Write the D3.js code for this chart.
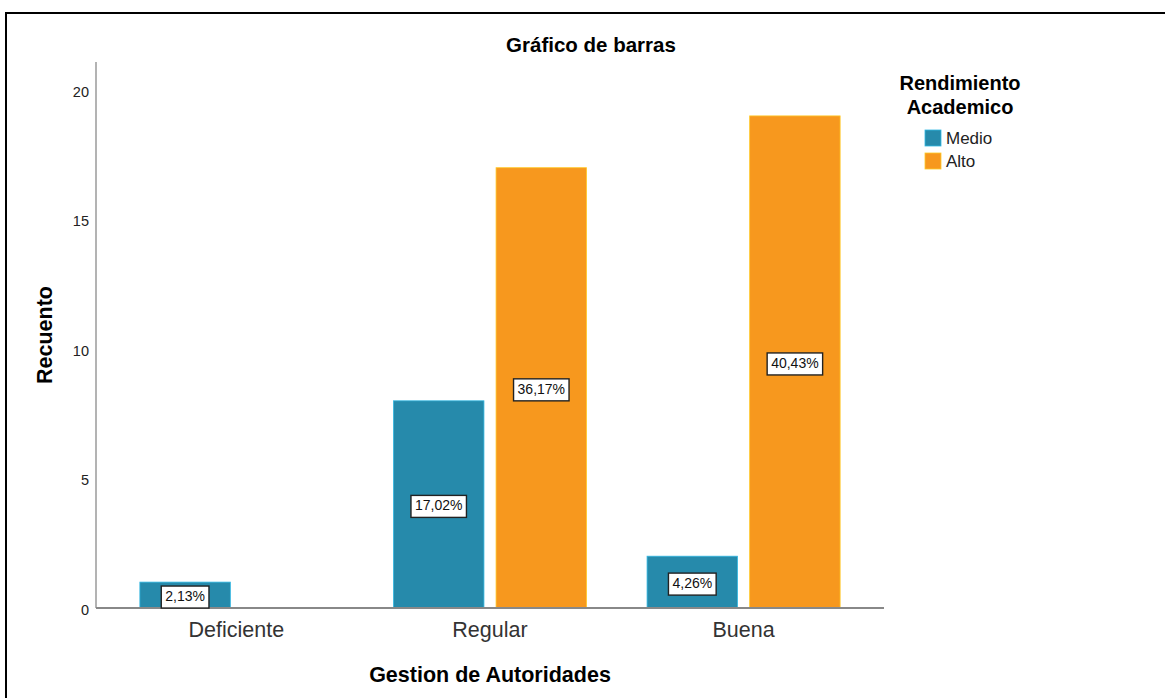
<!DOCTYPE html>
<html>
<head>
<meta charset="utf-8">
<script src="https://cdn.jsdelivr.net/npm/d3@7"></script>
<style>
  body { margin: 0; background: #fff; }
  svg { display: block; font-family: Arial, "Liberation Sans", sans-serif; }
</style>
</head>
<body>
<svg id="chart" width="1165" height="698"></svg>
<script>
// data
const categories = ['Deficiente', 'Regular', 'Buena'];
const series = ['Medio', 'Alto'];
const medio = [1, 8, 2];
const alto = [0, 17, 19];
const medioPct = ['2,13%', '17,02%', '4,26%'];
const altoPct = ['', '36,17%', '40,43%'];
const yTicks = [0, 5, 10, 15, 20];
const legendTitle = ['Rendimiento', 'Academico'];
const colors = ['#268aab', '#f7981e'];

const svg = d3.select('#chart');

// frame
svg.append('rect')
  .attr('x', 6).attr('y', 13)
  .attr('width', 1200).attr('height', 720)
  .attr('fill', 'none').attr('stroke', '#000').attr('stroke-width', 2);

const plotLeft = 96, plotRight = 884, plotTop = 62, plotBase = 608;

const x = d3.scaleBand().domain(categories).range([plotLeft, plotRight])
  .paddingInner(0.2387).paddingOuter(0.173);
const xs = d3.scaleBand().domain(series).range([0, x.bandwidth()])
  .paddingInner(0.118);
const y = d3.scaleLinear().domain([0, 20]).range([plotBase, 90]);

// rows
let rows = [];
categories.forEach((c, i) => {
  rows.push({cat: c, s: 'Medio', v: medio[i], pct: medioPct[i], col: colors[0]});
  rows.push({cat: c, s: 'Alto', v: alto[i], pct: altoPct[i], col: colors[1]});
});
rows = rows.filter(d => d.v > 0);

// bars
svg.append('g').selectAll('rect').data(rows).enter().append('rect')
  .attr('x', d => x(d.cat) + xs(d.s))
  .attr('width', xs.bandwidth())
  .attr('y', d => y(d.v))
  .attr('height', d => y(0) - y(d.v))
  .attr('fill', d => d.col)
  .attr('stroke', d => d3.color(d.col).brighter(0.8))
  .attr('stroke-width', 0.8);

// y axis
svg.append('line')
  .attr('x1', plotLeft).attr('x2', plotLeft).attr('y1', plotTop).attr('y2', plotBase)
  .attr('stroke', '#9a9a9a').attr('stroke-width', 1.5);
svg.append('g').selectAll('text').data(yTicks).enter().append('text')
  .attr('x', 89).attr('y', d => y(d) + 6.5)
  .attr('text-anchor', 'end')
  .attr('font-size', 14.5).attr('fill', '#222')
  .text(d => d);

// x axis
svg.append('line')
  .attr('x1', plotLeft).attr('x2', plotRight).attr('y1', plotBase).attr('y2', plotBase)
  .attr('stroke', '#888').attr('stroke-width', 2);
svg.append('g').selectAll('text').data(categories).enter().append('text')
  .attr('x', d => x(d) + x.bandwidth() / 2)
  .attr('y', 637)
  .attr('text-anchor', 'middle')
  .attr('font-size', 21.5).attr('fill', '#333')
  .text(d => d);

// value labels
const lab = svg.append('g').selectAll('g').data(rows).enter().append('g')
  .attr('transform', d => `translate(${x(d.cat) + xs(d.s) + xs.bandwidth() / 2},${y(d.v / 2) + 2})`);
lab.append('text')
  .attr('text-anchor', 'middle').attr('dominant-baseline', 'middle')
  .attr('font-size', 14).attr('fill', '#111')
  .text(d => d.pct);
lab.each(function() {
  const g = d3.select(this);
  const bb = g.select('text').node().getBBox();
  g.insert('rect', 'text')
    .attr('x', bb.x - 4).attr('y', -11)
    .attr('width', bb.width + 8).attr('height', 22)
    .attr('fill', '#fff').attr('stroke', '#222').attr('stroke-width', 1.4);
});

// titles
svg.append('text')
  .attr('x', 591).attr('y', 52)
  .attr('text-anchor', 'middle')
  .attr('font-size', 20.5).attr('font-weight', 'bold')
  .text('Gráfico de barras');
svg.append('text')
  .attr('transform', 'translate(52,335) rotate(-90)')
  .attr('text-anchor', 'middle')
  .attr('font-size', 21.5).attr('font-weight', 'bold')
  .text('Recuento');
svg.append('text')
  .attr('x', 490).attr('y', 682)
  .attr('text-anchor', 'middle')
  .attr('font-size', 21.5).attr('font-weight', 'bold')
  .text('Gestion de Autoridades');

// legend
svg.append('g').selectAll('text').data(legendTitle).enter().append('text')
  .attr('x', 960).attr('y', (d, i) => 90 + i * 24)
  .attr('text-anchor', 'middle')
  .attr('font-size', 20).attr('font-weight', 'bold')
  .text(d => d);
const leg = svg.append('g').selectAll('g').data(series).enter().append('g')
  .attr('transform', (d, i) => `translate(925,${130 + i * 23})`);
leg.append('rect')
  .attr('width', 16).attr('height', 16)
  .attr('fill', (d, i) => colors[i])
  .attr('stroke', (d, i) => d3.color(colors[i]).brighter(0.8)).attr('stroke-width', 0.8);
leg.append('text')
  .attr('x', 21).attr('y', 14)
  .attr('font-size', 17).attr('fill', '#222')
  .text(d => d);
</script>
</body>
</html>
